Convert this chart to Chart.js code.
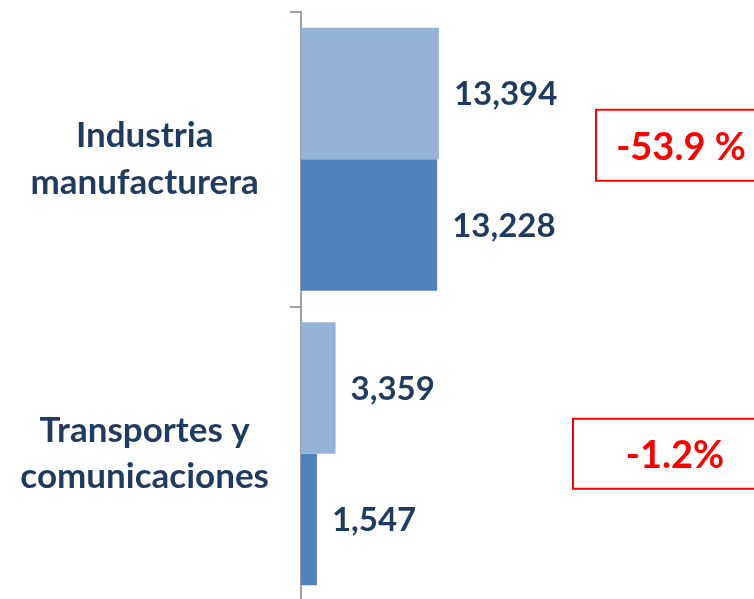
<!DOCTYPE html>
<html>
<head>
<meta charset="utf-8">
<script src="https://cdn.jsdelivr.net/npm/chart.js@4/dist/chart.umd.min.js"></script>
<style>
  html, body { margin: 0; padding: 0; background: #fff; overflow: hidden; }
  #wrap { width: 754px; height: 601px; }
</style>
</head>
<body>
<div id="wrap"><canvas id="c" width="754" height="601"></canvas></div>
<script>
const categories = [["Industria", "manufacturera"], ["Transportes y", "comunicaciones"]];
const seriesA = [13394, 3359];   // light blue
const seriesB = [13228, 1547];   // dark blue
const changeLabels = ["-53.9 %", "-1.2%"];

const NAVY = "#1F3B5F";
const FONT = "Lato, 'Open Sans', sans-serif";

const fmt = v => v.toLocaleString("en-US");

const dataLabelPlugin = {
  id: "dataLabels",
  afterDatasetsDraw(chart) {
    const ctx = chart.ctx;
    ctx.save();
    ctx.font = "bold 33px " + FONT;
    ctx.fillStyle = NAVY;
    ctx.textAlign = "left";
    ctx.textBaseline = "middle";
    chart.data.datasets.forEach((ds, di) => {
      const meta = chart.getDatasetMeta(di);
      meta.data.forEach((bar, i) => {
        ctx.fillText(fmt(ds.data[i]), bar.x + 15, bar.y + 1);
      });
    });
    ctx.restore();
  }
};

const changeBoxPlugin = {
  id: "changeBoxes",
  afterDraw(chart) {
    const ctx = chart.ctx;
    const ys = chart.scales.y;
    const boxes = [
      { left: 596, dy: -14, h: 71, tx: 681 },
      { left: 573, dy: 0, h: 70, tx: 675 }
    ];
    ctx.save();
    changeLabels.forEach((txt, i) => {
      const b = boxes[i];
      const cy = ys.getPixelForValue(i) + b.dy;
      ctx.strokeStyle = "#FF0000";
      ctx.lineWidth = 2;
      ctx.strokeRect(b.left, cy - b.h / 2, 800 - b.left, b.h);
      ctx.font = "bold 38px " + FONT;
      ctx.fillStyle = "#FF0000";
      ctx.textAlign = "center";
      ctx.textBaseline = "middle";
      ctx.fillText(txt, b.tx, cy + 2);
    });
    ctx.restore();
  }
};

new Chart(document.getElementById("c"), {
  type: "bar",
  data: {
    labels: categories,
    datasets: [
      { data: seriesA, backgroundColor: "#95B3D7", borderWidth: 0 },
      { data: seriesB, backgroundColor: "#4F81BD", borderWidth: 0 }
    ]
  },
  options: {
    indexAxis: "y",
    responsive: false,
    animation: false,
    layout: { padding: { top: 12, right: 0, bottom: 0, left: 0 } },
    plugins: { legend: { display: false }, tooltip: { enabled: false } },
    datasets: { bar: { categoryPercentage: 0.893, barPercentage: 1.0 } },
    scales: {
      x: { display: false, min: 0, max: 44000 },
      y: {
        afterFit(s) { s.width = 301; s.paddingTop = 0; s.paddingBottom = 0; },
        border: { display: true, color: "#A0A0A0", width: 2 },
        grid: {
          offset: true,
          drawOnChartArea: false,
          drawTicks: true,
          tickLength: 11,
          color: "#A0A0A0",
          lineWidth: 2
        },
        ticks: {
          crossAlign: "center",
          padding: 21,
          color: NAVY,
          font: { family: FONT, size: 35, weight: "bold", lineHeight: 1.32 }
        }
      }
    }
  },
  plugins: [dataLabelPlugin, changeBoxPlugin]
});
</script>
</body>
</html>
